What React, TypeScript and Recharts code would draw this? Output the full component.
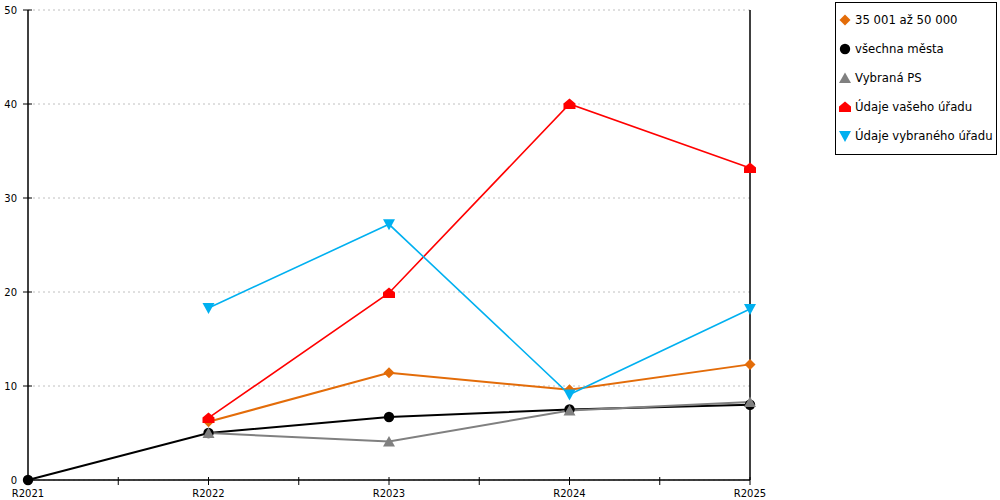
import React from 'react';
import { LineChart, Line, XAxis, YAxis, CartesianGrid, ReferenceLine } from 'recharts';

const categories = ['R2021', 'R2022', 'R2023', 'R2024', 'R2025'];
const seriesNames = ['35 001 až 50 000', 'všechna města', 'Vybraná PS', 'Údaje vašeho úřadu', 'Údaje vybraného úřadu'];
const orangeValues = [null, 6.2, 11.4, 9.6, 12.3];
const blackValues = [0, 5.0, 6.7, 7.5, 8.0];
const grayValues = [null, 5.0, 4.1, 7.4, 8.3];
const redValues = [null, 6.6, 19.9, 40.0, 33.2];
const cyanValues = [null, 18.3, 27.2, 9.1, 18.2];
const yTicks = [0, 10, 20, 30, 40, 50];
const xTicks = [0, 0.5, 1, 1.5, 2, 2.5, 3, 3.5, 4];

const keys = ['s1', 's2', 's3', 's4', 's5'];
const colors = ['#E36C09', '#000000', '#808080', '#FF0000', '#00B0F0'];
const shapes = ['diamond', 'circle', 'triangle', 'house', 'down'];

const data = categories.map((c, i) => ({
  idx: i,
  cat: c,
  s1: orangeValues[i],
  s2: blackValues[i],
  s3: grayValues[i],
  s4: redValues[i],
  s5: cyanValues[i],
}));

const FONT = '"DejaVu Sans", Verdana, sans-serif';

function Marker({ shape, cx, cy, color }: { shape: string; cx: number; cy: number; color: string }) {
  switch (shape) {
    case 'diamond':
      return <polygon points={`${cx},${cy - 5.5} ${cx + 5.5},${cy} ${cx},${cy + 5.5} ${cx - 5.5},${cy}`} fill={color} />;
    case 'circle':
      return <circle cx={cx} cy={cy} r={5.2} fill={color} />;
    case 'triangle':
      return <polygon points={`${cx - 6},${cy + 5} ${cx + 6},${cy + 5} ${cx},${cy - 5.5}`} fill={color} />;
    case 'house':
      return (
        <polygon
          points={`${cx},${cy - 5.5} ${cx + 6},${cy - 0.5} ${cx + 6},${cy + 5} ${cx - 6},${cy + 5} ${cx - 6},${cy - 0.5}`}
          fill={color}
        />
      );
    case 'down':
      return <polygon points={`${cx - 6},${cy - 5} ${cx + 6},${cy - 5} ${cx},${cy + 6}`} fill={color} />;
    default:
      return null;
  }
}

function makeDot(shape: string, color: string) {
  return (props: any) => {
    const { cx, cy, value, index } = props;
    if (cx == null || cy == null || value == null) return <g key={`e-${shape}-${index}`} />;
    return (
      <g key={`d-${shape}-${index}`}>
        <Marker shape={shape} cx={cx} cy={cy} color={color} />
      </g>
    );
  };
}

function YTick(props: any) {
  const { x, y, payload } = props;
  return (
    <g>
      <line x1={x - 5} x2={x + 4} y1={y} y2={y} stroke="#000" strokeWidth={1} />
      <text x={x - 11} y={y + 3.6} textAnchor="end" fontFamily={FONT} fontSize={10} fill="#000">
        {payload.value}
      </text>
    </g>
  );
}

function XTick(props: any) {
  const { x, y, payload } = props;
  const v = payload.value;
  const isInt = Number.isInteger(v);
  return (
    <g>
      <line x1={x} x2={x} y1={y - 3} y2={y + 5} stroke="#000" strokeWidth={1} />
      {isInt ? (
        <text x={x} y={y + 17} textAnchor="middle" fontFamily={FONT} fontSize={10} fill="#000">
          {categories[v]}
        </text>
      ) : null}
    </g>
  );
}

function LegendBox() {
  return (
    <svg width={1000} height={500} style={{ position: 'absolute', left: 0, top: 0, pointerEvents: 'none' }}>
      <rect x={835.5} y={2.5} width={161} height={152} fill="#fff" stroke="#000" strokeWidth={1} />
      {seriesNames.map((name, i) => {
        const cy = 20 + 29 * i;
        return (
          <g key={name}>
            <Marker shape={shapes[i]} cx={845} cy={cy} color={colors[i]} />
            <text x={855} y={cy + 4.2} fontFamily={FONT} fontSize={11.7} fill="#000">
              {name}
            </text>
          </g>
        );
      })}
    </svg>
  );
}

export default function App() {
  return (
    <div style={{ position: 'absolute', left: 0, top: 0, width: 1000, height: 500, background: '#fff' }}>
      <LineChart width={1000} height={500} data={data} margin={{ top: 10, right: 250, bottom: 0, left: 0 }}>
        <CartesianGrid vertical={false} stroke="#c0c0c0" strokeDasharray="2 3" />
        <XAxis
          dataKey="idx"
          type="number"
          domain={[0, 4]}
          ticks={xTicks}
          interval={0}
          height={20}
          tickSize={0}
          tickMargin={0}
          tickLine={false}
          axisLine={{ stroke: '#000', strokeWidth: 1.5 }}
          tick={<XTick />}
        />
        <YAxis
          type="number"
          domain={[0, 50]}
          ticks={yTicks}
          interval={0}
          width={28}
          tickSize={0}
          tickMargin={0}
          tickLine={false}
          axisLine={{ stroke: '#000', strokeWidth: 1.5 }}
          tick={<YTick />}
        />
        {keys.map((k, i) => (
          <Line
            key={k}
            dataKey={k}
            type="linear"
            stroke={colors[i]}
            strokeWidth={i >= 3 ? 1.6 : 2}
            dot={makeDot(shapes[i], colors[i])}
            activeDot={false}
            connectNulls={false}
            isAnimationActive={false}
          />
        ))}
        <ReferenceLine x={4} stroke="#000" strokeWidth={1.5} />
      </LineChart>
      <LegendBox />
    </div>
  );
}
